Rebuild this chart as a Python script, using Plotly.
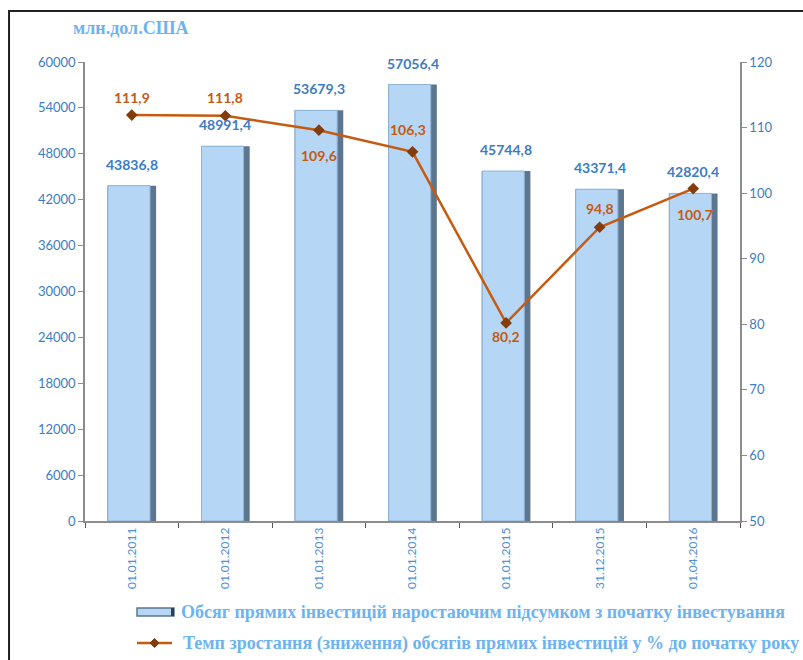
import plotly.graph_objects as go

categories = ["01.01.2011", "01.01.2012", "01.01.2013", "01.01.2014", "01.01.2015", "31.12.2015", "01.04.2016"]
volume = [43836.8, 48991.4, 53679.3, 57056.4, 45744.8, 43371.4, 42820.4]
growth = [111.9, 111.8, 109.6, 106.3, 80.2, 94.8, 100.7]
left_ticks = [0, 6000, 12000, 18000, 24000, 30000, 36000, 42000, 48000, 54000, 60000]
right_ticks = [50, 60, 70, 80, 90, 100, 110, 120]
growth_label_shift = [18, 18, -25, 22, -14, 19, -26]
growth_label_xshift = [0, 0, 0, -5, 0, 0, 2]

name_bar = "Обсяг прямих інвестицій наростаючим підсумком з початку інвестування"
name_line = "Темп зростання (зниження) обсягів прямих інвестицій у % до початку року"
unit = "млн.дол.США"

BLUE = "#3B7CC4"
LIGHTBLUE = "#6DB3F2"
ORANGE = "#C55A11"
MARKER = "#843C0C"
SANS = "Lato, 'Liberation Sans', sans-serif"
SERIF = "'Liberation Serif', 'DejaVu Serif', serif"

# plot area geometry (pixels) used to place the hand-made legend in paper coords
L, T, W, H = 85, 62, 655, 459
def px(x):
    return (x - L) / W
def py(y):
    return (T + H - y) / H

fig = go.Figure()
fig.add_trace(go.Bar(x=categories, y=volume, width=0.52, offset=-0.26,
                     marker=dict(color="#5C7690", line=dict(width=0)),
                     showlegend=False, hoverinfo="skip"))
fig.add_trace(go.Bar(x=categories, y=volume, width=0.45, offset=-0.255, name=name_bar,
                     marker=dict(color="#B5D6F4", line=dict(color="#8FB3D6", width=1))))
fig.add_trace(go.Scatter(x=categories, y=growth, yaxis="y2", mode="lines+markers", name=name_line,
                         line=dict(color=ORANGE, width=2.5),
                         marker=dict(symbol="diamond", size=9, color=MARKER)))

ann = []
for c, v in zip(categories, volume):
    ann.append(dict(x=c, y=v, xref="x", yref="y", text=f"{v:.1f}".replace(".", ","),
                    showarrow=False, yanchor="bottom", yshift=11,
                    font=dict(family=SANS, size=14, color=BLUE, weight="bold")))
for c, g, s, xs in zip(categories, growth, growth_label_shift, growth_label_xshift):
    ann.append(dict(x=c, y=g, xref="x", yref="y2", text=f"{g:.1f}".replace(".", ","),
                    showarrow=False, yanchor="middle", yshift=s, xshift=xs,
                    font=dict(family=SANS, size=14, color=ORANGE, weight="bold")))
ann.append(dict(x=-0.022, y=1.074, xref="paper", yref="paper", text=unit, showarrow=False,
                xanchor="left", yanchor="middle",
                font=dict(family=SERIF, size=18, color=LIGHTBLUE, weight="bold")))
# legend texts
ann.append(dict(x=px(179), y=py(612), xref="paper", yref="paper", text=name_bar, showarrow=False,
                xanchor="left", yanchor="middle",
                font=dict(family=SERIF, size=18, color=LIGHTBLUE, weight="bold")))
ann.append(dict(x=px(181), y=py(643), xref="paper", yref="paper", text=name_line, showarrow=False,
                xanchor="left", yanchor="middle",
                font=dict(family=SERIF, size=18, color=LIGHTBLUE, weight="bold")))

shapes = [
    dict(type="rect", xref="paper", yref="paper", x0=-0.116, x1=1.12, y0=-0.32, y1=1.111,
         line=dict(color="#222", width=2), fillcolor="rgba(0,0,0,0)", layer="below"),
    # legend bar icon
    dict(type="rect", xref="paper", yref="paper", x0=px(137), x1=px(174), y0=py(616), y1=py(608),
         line=dict(color="#5C7690", width=1.5), fillcolor="#B5D6F4"),
    dict(type="rect", xref="paper", yref="paper", x0=px(171), x1=px(174), y0=py(616), y1=py(608),
         line=dict(width=0), fillcolor="#2F3F50"),
    # legend line icon
    dict(type="line", xref="paper", yref="paper", x0=px(137), x1=px(172), y0=py(643), y1=py(643),
         line=dict(color=ORANGE, width=2.5)),
    dict(type="path", xref="paper", yref="paper",
         path=f"M {px(154.5)},{py(638.5)} L {px(159)},{py(643)} L {px(154.5)},{py(647.5)} L {px(150)},{py(643)} Z",
         line=dict(color=MARKER, width=1), fillcolor=MARKER),
]

fig.update_layout(
    width=803, height=660,
    margin=dict(l=L, r=803 - L - W, t=T, b=660 - T - H),
    paper_bgcolor="white", plot_bgcolor="white",
    barmode="overlay",
    annotations=ann,
    shapes=shapes,
    showlegend=False,
    xaxis=dict(showline=True, linecolor="#8C8C8C", linewidth=1.5, ticks="outside", tickson="boundaries",
               ticklen=5, tickcolor="#555", tickangle=-90, showgrid=False,
               tickfont=dict(family=SANS, size=12, color="#4F8FD2")),
    yaxis=dict(range=[0, 60000], tickvals=left_ticks, ticktext=[str(t) for t in left_ticks],
               showline=True, linecolor="#8C8C8C", linewidth=1.5,
               ticks="outside", ticklen=5, tickcolor="#8C8C8C", showgrid=False, zeroline=False,
               tickfont=dict(family=SANS, size=13, color=BLUE)),
    yaxis2=dict(range=[50, 120], tickvals=right_ticks, ticktext=[str(t) for t in right_ticks],
                overlaying="y", side="right", showline=True,
                linecolor="#8C8C8C", linewidth=1.5, ticks="outside", ticklen=5, tickcolor="#8C8C8C",
                showgrid=False, zeroline=False,
                tickfont=dict(family=SANS, size=13, color=BLUE)),
)

fig.write_html("out.html", config={"displayModeBar": False},
               post_script="document.body.style.margin='0';document.body.style.overflow='hidden';")
